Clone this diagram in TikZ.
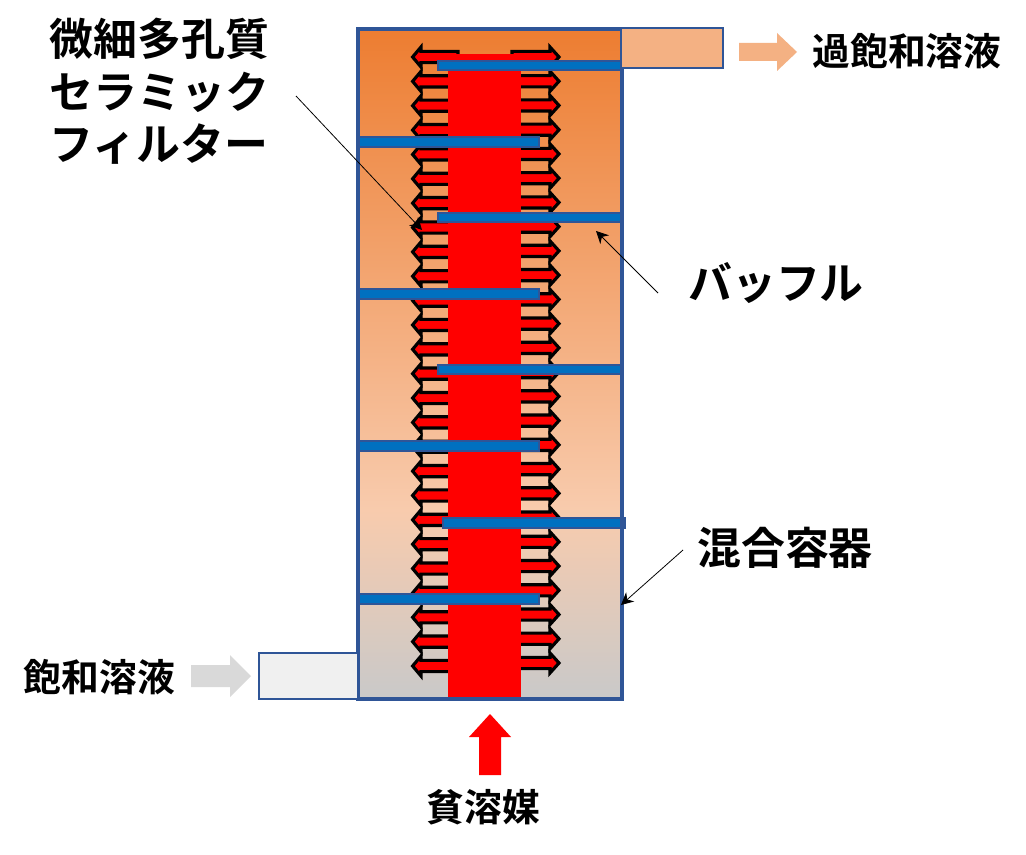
\documentclass[tikz,border=0pt]{standalone}
\usepackage{fontspec}
\setmainfont{Noto Sans CJK JP}[BoldFont={Noto Sans CJK JP Bold}]
\usetikzlibrary{arrows.meta}

\begin{document}
\begin{tikzpicture}[x=0.02cm,y=-0.02cm]
    \tikzset{
        wallstyle/.style={draw=wallblue, line width=1.8pt},
        bafflestyle/.style={fill=baffleblue, draw=wallblue, line width=1.2pt},
        flowstyle/.style={fill=red, draw=black, line width=1.8pt, line join=miter},
        bigtext/.style={font=\fontsize{25}{29.8}\selectfont\bfseries, align=left, inner sep=0pt},
        smalltext/.style={font=\fontsize{21.5}{26}\selectfont\bfseries, inner sep=0pt},
        leader/.style={draw=black, line width=0.45pt, -{Stealth[length=7pt,width=7pt]}}
    }
    \definecolor{wallblue}{HTML}{2F5597}
    \definecolor{baffleblue}{HTML}{0070C0}
    \definecolor{tankorange}{HTML}{ED7D31}
    \definecolor{tankpeach}{HTML}{F8CBAD}
    \definecolor{tankgray}{HTML}{C9C9C9}
    \definecolor{outletfill}{HTML}{F4B183}
    \definecolor{inletfill}{HTML}{F0F0F0}
    \definecolor{inletarrow}{HTML}{D9D9D9}

    \useasboundingbox (0,0) rectangle (1026,854);
    \fill[white] (0,0) rectangle (1026,854);

    % --- MIXING VESSEL ---
    \shade[top color=tankorange, bottom color=tankpeach] (358,29) rectangle (622,510);
    \shade[top color=tankpeach, bottom color=tankgray] (358,510) rectangle (622,699);

    % --- FILTER FLOW ARROWS ---
    \foreach \i in {0,...,25} {
        \pgfmathsetmacro{\yl}{57+24.36*\i}
        \pgfmathsetmacro{\yr}{57+24.24*\i}
        \draw[flowstyle] (458,\yl-5.6) -- (421,\yl-5.6) -- (421,\yl-10) -- (412.6,\yl)
            -- (421,\yl+10) -- (421,\yl+5.6) -- (458,\yl+5.6) -- cycle;
        \draw[flowstyle] (512,\yr-5.6) -- (550,\yr-5.6) -- (550,\yr-10) -- (559,\yr)
            -- (550,\yr+10) -- (550,\yr+5.6) -- (512,\yr+5.6) -- cycle;
    }

    % --- FILTER ---
    \fill[red] (448,54) rectangle (521,700);

    % --- BAFFLES ---
    \foreach \y in {60,212,364} {
        \draw[bafflestyle] (438,\y+1) rectangle (621,\y+10);
    }
    \draw[bafflestyle] (443,518) rectangle (625,528);
    \foreach \y in {136,288,440,593} {
        \draw[bafflestyle] (358,\y+1) rectangle (539,\y+11);
    }

    % --- VESSEL WALL AND PORTS ---
    \draw[wallstyle] (358,29) rectangle (622,699);
    \node[wallstyle, line width=1.4pt, fill=outletfill, minimum width=2.04cm, minimum height=0.8cm, inner sep=0pt] (outlet) at (672,48) {};
    \node[wallstyle, line width=1.4pt, fill=inletfill, minimum width=1.98cm, minimum height=0.92cm, inner sep=0pt] (inlet) at (308.5,676) {};

    % --- FEED ARROWS ---
    \fill[inletarrow] (191,665) -- (230,665) -- (230,655) -- (251,676) -- (230,697) -- (230,687) -- (191,687) -- cycle;
    \fill[outletfill] (739,43) -- (777,43) -- (777,33) -- (797,52) -- (777,71) -- (777,61) -- (739,61) -- cycle;
    \fill[red] (479,775) -- (479,737) -- (469,737) -- (490,714) -- (511,737) -- (501,737) -- (501,775) -- cycle;

    % --- LABELS ---
    \node[bigtext, anchor=north west] (filterlabel) at (49,18) {微細多孔質\\セラミック\\フィルター};
    \node[bigtext] (bafflelabel) at (776,283) {バッフル};
    \node[bigtext] (vessellabel) at (785,548) {混合容器};
    \node[smalltext] (outletlabel) at (907,51) {過飽和溶液};
    \node[smalltext] (inletlabel) at (99.5,677) {飽和溶液};
    \node[smalltext] (solventlabel) at (483.5,807) {貧溶媒};

    % --- LEADER LINES ---
    \coordinate (filterstart) at (296,96);
    \coordinate (filterend) at (422,230);
    \coordinate (bafflestart) at (658,293);
    \coordinate (baffleend) at (596,231);
    \coordinate (vesselstart) at (683,550);
    \coordinate (vesselend) at (621,605);
    \draw[leader] (filterstart) -- (filterend);
    \draw[leader] (bafflestart) -- (baffleend);
    \draw[leader] (vesselstart) -- (vesselend);
\end{tikzpicture}
\end{document}
